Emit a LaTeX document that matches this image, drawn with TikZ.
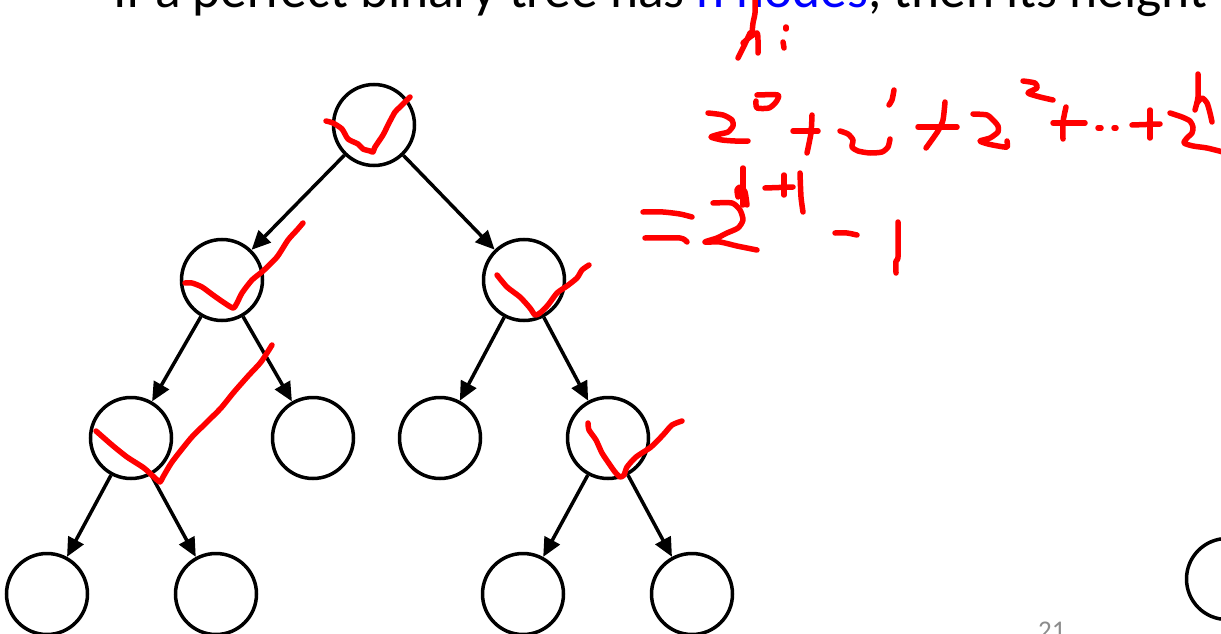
\documentclass[tikz,border=0pt]{standalone}
\usepackage{fontspec}
\setmainfont{Carlito}
\usetikzlibrary{arrows.meta}
\begin{document}
\begin{tikzpicture}[x=1pt,y=-1pt,
  tn/.style={circle,draw=black,line width=3.5pt,minimum size=81pt,inner sep=0pt},
  edge/.style={draw=black,line width=3.5pt,-{Triangle[length=19pt,width=17pt]}},
  ink/.style={draw=red,line width=5.5pt,line cap=round,line join=round},
  ]
\useasboundingbox (0,0) rectangle (1221,634);
% title
\node[anchor=base west,inner sep=0pt,font=\fontsize{53.4}{60}\selectfont] (title) at (113,8)
  {If a perfect binary tree has \textcolor{blue}{n nodes}, then its height};
% page number
\node[anchor=base west,inner sep=0pt,text=black!45,font=\fontsize{27}{30}\selectfont] (pg) at (1038,639) {21};
% tree
\node[tn] (r) at (374,125) {};
\node[tn] (l) at (222,280) {};
\node[tn] (rr) at (524,280) {};
\node[tn] (ll) at (131,438) {};
\node[tn] (lr) at (313,438) {};
\node[tn] (rl) at (440,438) {};
\node[tn] (rrr) at (608,438) {};
\node[tn] (lll) at (47,594) {};
\node[tn] (llr) at (216,594) {};
\node[tn] (rrl) at (523,594) {};
\node[tn] (rrrr) at (692,594) {};
\node[tn] (x) at (1227,579) {};
\draw[edge] (r) -- (l);
\draw[edge] (r) -- (rr);
\draw[edge] (l) -- (ll);
\draw[edge] (l) -- (lr);
\draw[edge] (rr) -- (rl);
\draw[edge] (rr) -- (rrr);
\draw[edge] (ll) -- (lll);
\draw[edge] (ll) -- (llr);
\draw[edge] (rrr) -- (rrl);
\draw[edge] (rrr) -- (rrrr);
% check marks
\draw[ink] plot[smooth,tension=0.4] coordinates {(326,121)(333,123)(342,129)(348,139)(358,144)(363,149)(370,151)(373,152)(375,147)(383,135)(389,123)(395,112)(400,107)(410,97)};
\draw[ink] plot[smooth,tension=0.4] coordinates {(497,275)(507,287)(520,297)(530,308)(535,315)(540,313)(548,305)(557,293)(567,286)(577,278)(582,270)(589,265)};
\draw[ink] plot[smooth,tension=0.4] coordinates {(185,283)(192,283)(202,287)(213,295)(223,302)(233,308)(237,303)(242,293)(252,280)(263,271)(277,257)(288,240)(297,230)(303,223)};
\draw[ink] plot[smooth,tension=0.4] coordinates {(96,431)(112,445)(127,457)(144,468)(155,478)(160,482)(163,477)(172,462)(191,438)(206,423)(221,408)(234,392)(249,375)(261,362)(272,345)};
\draw[ink] plot[smooth,tension=0.4] coordinates {(588,423)(589,430)(596,440)(602,453)(610,465)(615,472)(620,477)(624,475)(627,467)(636,457)(651,447)(663,435)(672,425)(682,421)};
% h :
\draw[ink] plot[smooth,tension=0.4] coordinates {(755,-2)(755,13)(753,23)(752,33)};
\draw[ink] plot[smooth,tension=0.4] coordinates {(750,33)(744,46)(738,58)};
\draw[ink] plot[smooth,tension=0.4] coordinates {(743,43)(750,37)(757,33)(758,40)(758,53)};
\draw[ink] (786,27) -- (786,29);
\draw[ink] (783,42) -- (784,48);
% 2^0
\draw[ink] plot[smooth,tension=0.4] coordinates {(708,113)(723,115)(732,120)(733,126)(728,132)(720,134)(711,137)(722,140)(735,141)(748,141)};
\draw[ink] plot[smooth,tension=0.4] coordinates {(757,95)(778,95)(776,102)(769,108)(757,108)(756,101)};
% +
\draw[ink] (793,131) -- (818,131);
\draw[ink] plot[smooth,tension=0.4] coordinates {(812,115)(811,133)(807,153)};
% 2^1
\draw[ink] plot[smooth,tension=0.4] coordinates {(840,131)(848,134)(853,140)(852,147)(858,151)(870,153)(882,152)(888,147)(890,139)};
\draw[ink] plot[smooth,tension=0.4] coordinates {(894,90)(892,100)(889,105)};
% +
\draw[ink] (918,127) -- (957,127);
\draw[ink] plot[smooth,tension=0.4] coordinates {(945,102)(943,120)(938,131)(926,148)};
% 2^2
\draw[ink] plot[smooth,tension=0.4] coordinates {(973,114)(987,115)(994,121)(998,126)(998,132)(990,138)(980,141)(988,144)(998,146)(1007,147)(1007,141)};
\draw[ink] plot[smooth,tension=0.4] coordinates {(1023,81)(1035,83)(1037,88)(1028,93)(1040,97)(1053,100)};
% +
\draw[ink] (1053,123) -- (1085,123);
\draw[ink] plot[smooth,tension=0.4] coordinates {(1066,107)(1063,122)(1063,139)};
% dots
\draw[ink] (1098,128) -- (1101,128);
\draw[ink] (1114,128) -- (1116,128);
% +
\draw[ink] (1132,125) -- (1160,124);
\draw[ink] (1150,110) -- (1150,138);
% 2^h
\draw[ink] plot[smooth,tension=0.4] coordinates {(1170,113)(1182,117)(1190,121)(1193,127)(1192,133)(1187,138)(1184,143)(1193,146)(1207,148)(1223,152)};
\draw[ink] plot[smooth,tension=0.4] coordinates {(1198,74)(1198,97)(1195,110)};
\draw[ink] plot[smooth,tension=0.4] coordinates {(1197,103)(1202,98)(1207,103)(1210,113)(1212,122)};
% = 2^{h+1} - 1
\draw[ink] plot[smooth,tension=0.4] coordinates {(643,212)(663,212)(680,214)(692,217)};
\draw[ink] plot[smooth,tension=0.4] coordinates {(645,238)(680,238)(687,242)};
\draw[ink] plot[smooth,tension=0.4] coordinates {(713,203)(732,203)(740,210)(743,220)(738,228)(727,233)(717,238)(705,242)(720,242)(737,246)(757,250)};
\draw[ink] (743,168) -- (743,205);
\draw[ink] plot[smooth,tension=0.4] coordinates {(738,197)(737,190)(740,187)(745,192)(747,205)};
\draw[ink] (765,188) -- (793,187);
\draw[ink] (784,175) -- (784,195);
\draw[ink] plot[smooth,tension=0.4] coordinates {(800,173)(801,197)(803,212)};
\draw[ink] plot[smooth,tension=0.4] coordinates {(835,233)(847,233)(857,235)};
\draw[ink] plot[smooth,tension=0.4] coordinates {(898,222)(898,257)(896,261)(896,273)};
\end{tikzpicture}
\end{document}
